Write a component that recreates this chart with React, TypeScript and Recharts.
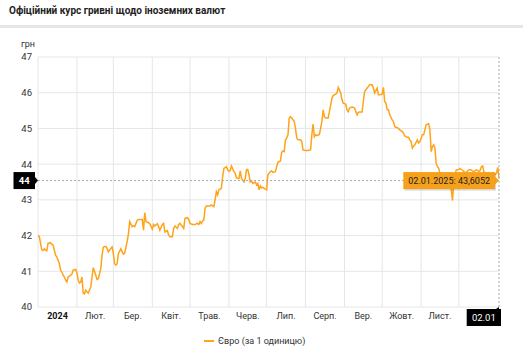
import React from 'react';
import { LineChart, Line, XAxis, YAxis, CartesianGrid, ReferenceLine, ReferenceDot } from 'recharts';

// day offsets from 01.01.2024 and the official EUR rate
const days = [
  0, 1, 3, 4, 5, 6, 7, 8, 10, 11, 12, 14, 15, 16, 17, 18, 19, 20, 21, 22, 23, 24, 26, 27, 28, 30,
  31, 32, 33, 34, 35, 36, 37, 38, 39, 40, 42, 43, 44, 46, 47, 48, 50, 51, 52, 54, 55, 56, 58, 59,
  60, 61, 62, 63, 64, 66, 67, 68, 69, 71, 72, 73, 75, 76, 77, 79, 80, 81, 83, 84, 85, 86, 88, 89,
  91, 92, 93, 95, 96, 97, 99, 100, 101, 103, 104, 105, 107, 108, 109, 111, 112, 113, 115, 116, 117, 119, 120,
  121, 123, 124, 125, 127, 128, 129, 130, 131, 132, 133, 134, 136, 137, 138, 140, 141, 142, 143, 144, 145, 146, 147, 148, 150, 151,
  152, 153, 154, 156, 157, 158, 159, 160, 161, 162, 164, 165, 166, 167, 168, 169, 170, 171, 173, 174, 175, 176, 177, 178, 179, 181,
  182, 183, 185, 186, 187, 189, 190, 191, 193, 194, 195, 196, 197, 198, 199, 200, 201, 202, 203, 204, 205, 206, 207, 209, 210, 211,
  213, 214, 215, 217, 218, 219, 220, 221, 222, 224, 225, 226, 227, 228, 229, 230, 231, 233, 234, 235, 237, 238, 239, 241, 242, 243,
  245, 246, 247, 248, 250, 251, 252, 254, 255, 256, 258, 259, 260, 262, 263, 264, 266, 267, 268, 270, 271, 272,
  274, 275, 276, 277, 278, 279, 280, 282, 283, 284, 286, 287, 288, 290, 291, 292, 294, 295, 296, 297, 298, 299, 300, 302, 303, 304,
  306, 307, 308, 309, 311, 312, 313, 314, 315, 316, 317, 318, 319, 320, 321, 323, 324, 325, 327, 328, 329, 330, 331, 332, 333,
  335, 336, 337, 339, 340, 341, 343, 344, 345, 347, 348, 349, 351, 352, 353, 354, 355, 357, 358, 359, 361, 362, 363, 365,
  366, 367,
];

const rates = [
  42.0, 41.98, 41.6, 41.58, 41.63, 41.59, 41.57, 41.78, 41.8, 41.76, 41.73, 41.45, 41.4, 41.31, 41.21, 41.03, 40.98, 40.89, 40.84, 40.75, 40.7, 40.84, 40.89, 40.92, 41.03, 41.05,
  40.96, 40.75, 40.67, 40.7, 40.84, 40.39, 40.37, 40.47, 40.42, 40.39, 40.56, 40.84, 41.1, 40.89, 40.77, 40.79, 41.08, 41.45, 41.68, 41.7, 41.64, 41.54, 41.64, 41.68,
  41.5, 41.21, 41.17, 41.21, 41.5, 41.63, 41.54, 41.48, 41.51, 41.84, 42.05, 42.39, 42.25, 42.27, 42.25, 42.43, 42.45, 42.45, 42.45, 42.15, 42.64, 42.39, 42.36, 42.33,
  42.18, 42.31, 42.27, 42.33, 42.25, 42.15, 42.31, 42.34, 42.1, 42.14, 42.01, 41.97, 41.97, 42.2, 42.27, 42.2, 42.31, 42.34, 42.25, 42.2, 42.48, 42.5, 42.45,
  42.34, 42.31, 42.31, 42.31, 42.34, 42.31, 42.39, 42.34, 42.41, 42.43, 42.76, 42.83, 42.83, 42.83, 42.86, 42.81, 43.0, 43.23, 43.14, 43.28, 43.3, 43.33, 43.65, 43.88, 43.93, 43.84,
  43.8, 43.82, 43.95, 43.79, 43.74, 43.62, 43.6, 43.6, 43.81, 43.6, 43.5, 43.6, 43.85, 43.85, 43.7, 43.5, 43.53, 43.46, 43.5, 43.42, 43.46, 43.28, 43.39, 43.33, 43.35, 43.3,
  43.28, 43.7, 43.79, 43.81, 43.77, 43.79, 43.93, 44.05, 44.09, 44.33, 44.37, 44.35, 44.68, 44.73, 44.82, 45.29, 45.33, 45.29, 45.24, 45.19, 45.0, 44.73, 44.68, 44.68, 44.63, 44.4,
  44.38, 44.38, 44.38, 44.4, 44.82, 45.12, 44.77, 44.82, 44.8, 44.83, 45.0, 45.19, 45.52, 45.33, 45.29, 45.29, 45.29, 45.66, 45.85, 45.92, 45.96, 45.99, 46.15, 45.99, 45.8, 45.71,
  45.68, 45.52, 45.47, 45.57, 45.6, 45.59, 45.57, 45.38, 45.45, 45.46, 45.46, 45.76, 46.03, 46.13, 46.17, 46.22, 46.22, 46.13, 45.99, 46.13, 45.94, 45.94,
  45.96, 46.15, 45.75, 45.71, 45.52, 45.52, 45.38, 45.24, 45.19, 45.05, 45.02, 45.0, 44.96, 44.91, 44.87, 44.79, 44.75, 44.75, 44.68, 44.63, 44.45, 44.51, 44.54, 44.68, 44.59, 44.63,
  44.82, 44.82, 44.96, 45.1, 45.13, 44.96, 44.35, 44.49, 44.54, 44.45, 44.02, 43.93, 43.88, 43.74, 43.56, 43.53, 43.6, 43.6, 43.65, 43.7, 43.28, 42.98, 43.5, 43.7, 43.84,
  43.85, 43.88, 43.85, 43.8, 43.75, 43.78, 43.84, 43.85, 43.83, 43.78, 43.82, 43.84, 43.8, 43.83, 43.93, 43.95, 43.78, 43.72, 43.7, 43.74, 43.7, 43.72, 43.68, 43.75,
  43.91, 43.6052,
];

const monthStarts = [0, 31, 60, 91, 121, 152, 182, 213, 244, 274, 305, 335];
const monthMids = [15.5, 45.5, 75.5, 106, 136.5, 167, 197.5, 228.5, 259, 289.5, 320];
const monthLabels = ['2024', 'Лют.', 'Бер.', 'Квіт.', 'Трав.', 'Черв.', 'Лип.', 'Серп.', 'Вер.', 'Жовт.', 'Лист.'];
const yTicks = [40, 41, 42, 43, 44, 45, 46, 47];
const lastDayLabel = '02.01';
const lastDateFull = '02.01.2025';
const cursorLevel = 43.54;
const seriesName = 'Євро (за 1 одиницю)';
const title = 'Офіційний курс гривні щодо іноземних валют';
const unit = 'грн';

const data = days.map((d, i) => ({ day: d, rate: rates[i] }));
const lastDay = days[days.length - 1];
const lastRate = rates[rates.length - 1];

const ORANGE = '#ffa31a';
const FONT = 'Roboto, "Noto Sans", Arial, sans-serif';

const XTick = (props: any) => {
  const { x, y, index } = props;
  const label = monthLabels[index] ?? '';
  return (
    <text
      x={x}
      y={y}
      dy="0.71em"
      textAnchor="middle"
      fontSize={9}
      fontFamily={FONT}
      fontWeight={index === 0 ? 700 : 400}
      fill={index === 0 ? '#111' : '#333'}
    >
      {label}
    </text>
  );
};

const YBadge = (props: any) => {
  const vb = props.viewBox || {};
  const x = vb.x;
  const y = vb.y;
  const right = x - 3;
  const left = right - 21.5;
  return (
    <g>
      <rect x={left} y={y - 8.5} width={right - left} height={17} fill="#000" />
      <path d={`M${right},${y - 3.5} L${x},${y} L${right},${y + 3.5} Z`} fill="#000" />
      <text x={(left + right) / 2} y={y} dy="0.36em" textAnchor="middle" fontSize={9.5} fontWeight={700} fontFamily={FONT} fill="#fff">
        {Math.round(lastRate)}
      </text>
    </g>
  );
};

const XBadge = (props: any) => {
  const vb = props.viewBox || {};
  const x = vb.x;
  const bottom = vb.y + vb.height;
  const left = x - 32.3;
  const right = x + 2;
  const top = bottom + 2;
  return (
    <g>
      <rect x={left} y={top} width={right - left} height={17} fill="#000" />
      <path d={`M${x - 3},${top} L${x},${bottom} L${x},${top} Z`} fill="#000" />
      <text x={(left + right) / 2} y={top + 8.5} dy="0.36em" textAnchor="middle" fontSize={9.5} fontFamily={FONT} fill="#fff">
        {lastDayLabel}
      </text>
    </g>
  );
};

const TipBox = (props: any) => {
  const { cx, cy } = props;
  if (cx == null || cy == null) return null;
  const right = cx - 4;
  const left = cx - 95.7;
  const top = cy - 8.5;
  const text = `${lastDateFull}: ${lastRate.toFixed(4).replace('.', ',')}`;
  return (
    <g>
      <rect x={left + 1} y={top + 1.5} width={right - left} height={17} fill="rgba(0,0,0,0.15)" />
      <rect x={left} y={top} width={right - left} height={17} fill="#f7a11a" />
      <path d={`M${right},${cy - 4} L${cx},${cy} L${right},${cy + 4} Z`} fill="#f7a11a" />
      <text x={(left + right) / 2} y={cy} dy="0.36em" textAnchor="middle" fontSize={9} fontFamily={FONT} fill="#222">
        {text}
      </text>
    </g>
  );
};

export default function App() {
  return (
    <div style={{ position: 'absolute', left: 0, top: 0, width: 523, height: 350, background: '#fff', fontFamily: FONT }}>
      <div style={{ position: 'absolute', left: 9, top: 4, fontSize: 10, lineHeight: '14px', fontWeight: 700, color: '#222', whiteSpace: 'nowrap' }}>
        {title}
      </div>
      <div style={{ position: 'absolute', left: 0, top: 25, width: 523, height: 2.5, background: '#e6e6e6' }} />
      <div style={{ position: 'absolute', left: 21, top: 38, fontSize: 9, lineHeight: '13px', color: '#333' }}>{unit}</div>
      <div style={{ position: 'absolute', left: 0, top: 0 }}>
        <LineChart width={523} height={350} data={data} margin={{ top: 57, right: 24, bottom: 23, left: 8 }}>
          <CartesianGrid vertical={false} stroke="#e6e6e6" />
          {monthStarts.map((m) => (
            <ReferenceLine key={m} x={m} stroke="#e6e6e6" strokeWidth={1} />
          ))}
          <XAxis
            dataKey="day"
            type="number"
            domain={[0, lastDay]}
            ticks={monthMids}
            interval={0}
            tick={<XTick />}
            tickLine={false}
            axisLine={false}
            tickMargin={0}
            height={20}
          />
          <YAxis
            type="number"
            domain={[40, 47]}
            ticks={yTicks}
            interval={0}
            width={30}
            tickLine={false}
            axisLine={false}
            tickMargin={0}
            tick={{ fontSize: 9.5, fill: '#333', fontFamily: FONT }}
          />
          <Line
            type="linear"
            dataKey="rate"
            name={seriesName}
            stroke={ORANGE}
            strokeWidth={1.5}
            dot={false}
            activeDot={false}
            isAnimationActive={false}
          />
          <ReferenceLine y={cursorLevel} stroke="#aaa" strokeDasharray="2 2" label={<YBadge />} />
          <ReferenceLine x={lastDay} stroke="#aaa" strokeDasharray="2 2" label={<XBadge />} />
          <ReferenceDot x={lastDay} y={cursorLevel} r={0} shape={(p: any) => <TipBox {...p} />} />
        </LineChart>
      </div>
      <div style={{ position: 'absolute', left: 204, top: 334, height: 14, display: 'flex', alignItems: 'center', fontSize: 9, color: '#333', whiteSpace: 'nowrap' }}>
        <span style={{ display: 'inline-block', width: 10, height: 2, background: ORANGE, marginRight: 4 }} />
        <span>{seriesName}</span>
      </div>
    </div>
  );
}
